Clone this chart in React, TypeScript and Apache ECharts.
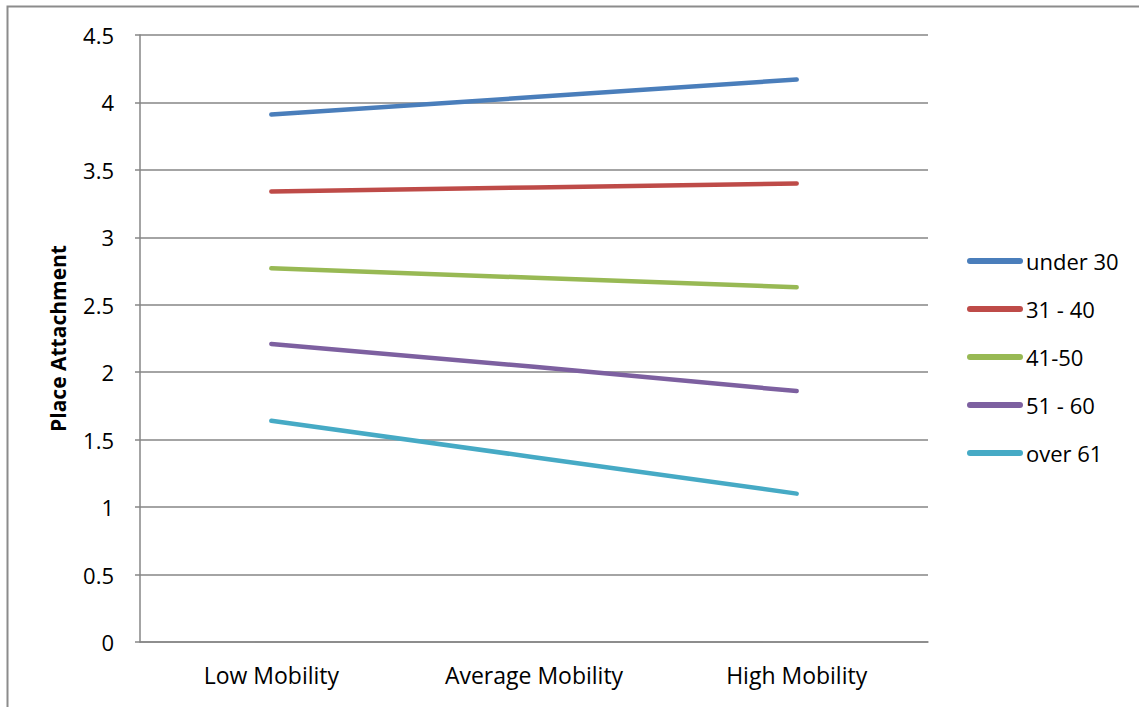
import React, { useEffect, useRef } from "react";
import * as echarts from "echarts";

const categories = ["Low Mobility", "Average Mobility", "High Mobility"];
const seriesNames = ["under 30", "31 - 40", "41-50", "51 - 60", "over 61"];
const under30 = [3.91, 4.04, 4.17];
const age31to40 = [3.34, 3.37, 3.4];
const age41to50 = [2.77, 2.7, 2.63];
const age51to60 = [2.21, 2.04, 1.86];
const over61 = [1.64, 1.37, 1.1];
const seriesValues = [under30, age31to40, age41to50, age51to60, over61];
const colors = ["#4A7EBB", "#BE4B48", "#98B954", "#7D60A0", "#46AAC5"];

const FONT = "'Open Sans', 'Liberation Sans', sans-serif";

export default function App() {
  const ref = useRef<HTMLDivElement>(null);
  useEffect(() => {
    if (!ref.current) return;
    const chart = echarts.init(ref.current, null, { renderer: "svg" });
    chart.setOption({
      animation: false,
      backgroundColor: "#ffffff",
      color: colors,
      textStyle: { fontFamily: FONT },
      graphic: [
        {
          type: "rect",
          shape: { x: 7.5, y: 6.5, width: 1200, height: 800 },
          style: { fill: "none", stroke: "#8c8c8c", lineWidth: 2 },
          silent: true,
        },
      ],
      grid: { left: 140, right: 211, top: 35, bottom: 65, containLabel: false },
      legend: {
        orient: "vertical",
        left: 967,
        top: 249,
        padding: 0,
        itemWidth: 56,
        itemHeight: 6,
        itemGap: 24,
        icon: "path://M3,0 L53,0 A3,3 0 0 1 53,6 L3,6 A3,3 0 0 1 3,0 Z",
        data: seriesNames,
        textStyle: {
          fontFamily: FONT,
          fontSize: 22,
          lineHeight: 24,
          color: "#000",
          padding: [0, 0, 0, -2],
        },
      },
      xAxis: {
        type: "category",
        data: categories,
        boundaryGap: true,
        axisLine: { lineStyle: { color: "#868686", width: 1.5 } },
        axisTick: { show: false },
        axisLabel: { fontFamily: FONT, fontSize: 23, color: "#000", margin: 21 },
      },
      yAxis: {
        type: "value",
        min: 0,
        max: 4.5,
        interval: 0.5,
        name: "Place Attachment",
        nameLocation: "middle",
        nameGap: 72,
        nameTextStyle: { fontFamily: FONT, fontSize: 21, fontWeight: "bold", color: "#000" },
        axisLine: { show: true, lineStyle: { color: "#868686", width: 1.5 } },
        axisTick: { show: true, length: 5, lineStyle: { color: "#868686", width: 1.5 } },
        axisLabel: { fontFamily: FONT, fontSize: 22, color: "#000", margin: 26 },
        splitLine: { lineStyle: { color: "#868686", width: 1.5 } },
      },
      series: seriesNames.map((name, i) => ({
        name,
        type: "line",
        data: seriesValues[i],
        symbol: "none",
        lineStyle: { width: 4.5, color: colors[i], cap: "round" },
        itemStyle: { color: colors[i] },
      })),
    });
    return () => chart.dispose();
  }, []);
  return (
    <div
      ref={ref}
      style={{ position: "absolute", left: 0, top: 0, width: 1139, height: 707 }}
    />
  );
}
